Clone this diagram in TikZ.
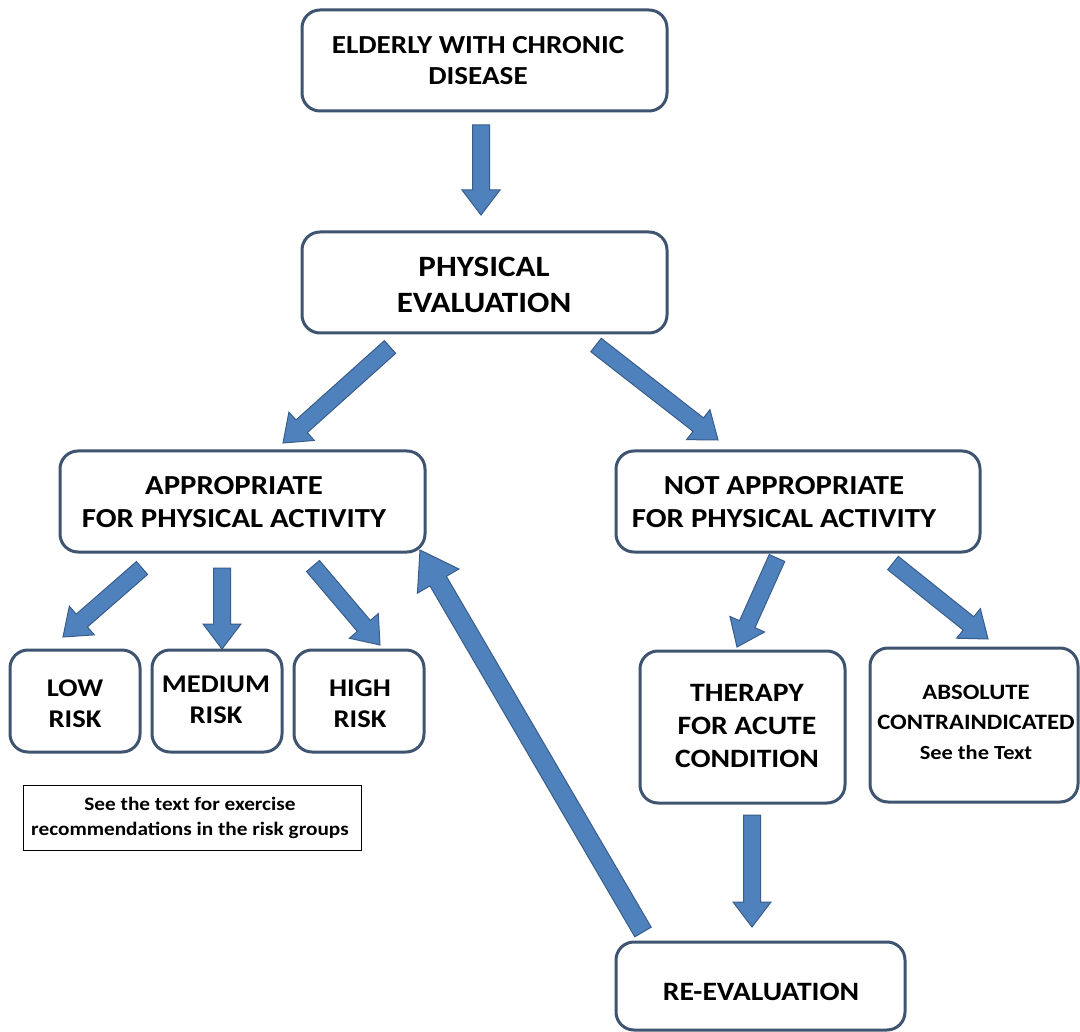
\documentclass[tikz,border=0pt]{standalone}
\usepackage{fontspec}
\setmainfont{Carlito}[FakeStretch=1.12]
\usetikzlibrary{calc}
\definecolor{boxline}{RGB}{62,84,112}
\definecolor{arrfill}{RGB}{79,129,189}
\definecolor{arrline}{RGB}{56,93,138}
\tikzset{
  box/.style={draw=boxline, line width=3pt, rounded corners=18pt, fill=white, inner sep=0pt},
  txt/.style={align=center, inner sep=0pt, font=\bfseries},
  notebox/.style={draw=black, line width=1pt, fill=white, inner sep=0pt},
  blockarr/.style={fill=arrfill, draw=arrline, line width=1pt, line join=miter},
}
% #1 from, #2 to, #3 shaft half width, #4 head half width, #5 head length
\newcommand\blockarrow[5]{%
  \coordinate (ba-h) at ($(#2)!#5!(#1)$);
  \draw[blockarr] ($(#1)!#3!90:(#2)$) -- ($(ba-h)!#3!90:(#2)$) -- ($(ba-h)!#4!90:(#2)$)
     -- (#2) -- ($(ba-h)!#4!-90:(#2)$) -- ($(ba-h)!#3!-90:(#2)$) -- ($(#1)!#3!-90:(#2)$) -- cycle;
}
\begin{document}
\begin{tikzpicture}[x=1pt,y=-1pt]
\useasboundingbox[fill=white] (0,0) rectangle (1080,1032);

% boxes
\node[box, minimum width=365pt, minimum height=101pt] (elderly) at (484.5,60.5) {};
\node[txt, font=\bfseries\fontsize{26}{31}\selectfont] (elderly-t) at (478,61) {ELDERLY WITH CHRONIC\\DISEASE};

\node[box, minimum width=365pt, minimum height=101pt] (phys) at (484.5,282.5) {};
\node[txt, font=\bfseries\fontsize{29.5}{36}\selectfont] (phys-t) at (484,285) {PHYSICAL\\EVALUATION};

\node[box, minimum width=365pt, minimum height=101pt] (appr) at (242.5,501.5) {};
\node[txt, font=\bfseries\fontsize{27.5}{33}\selectfont] (appr-t) at (234,502) {APPROPRIATE\\FOR PHYSICAL ACTIVITY};

\node[box, minimum width=364pt, minimum height=101pt] (notappr) at (798,501.5) {};
\node[txt, font=\bfseries\fontsize{27.5}{33}\selectfont] (notappr-t) at (784,502) {NOT APPROPRIATE\\FOR PHYSICAL ACTIVITY};

\node[box, minimum width=130pt, minimum height=102pt] (low) at (75,701) {};
\node[txt, font=\bfseries\fontsize{25.5}{31}\selectfont] (low-t) at (75,704) {LOW\\RISK};
\node[box, minimum width=130pt, minimum height=102pt] (medium) at (217,701) {};
\node[txt, font=\bfseries\fontsize{25.5}{31}\selectfont] (medium-t) at (216,700) {MEDIUM\\RISK};
\node[box, minimum width=130pt, minimum height=102pt] (high) at (359,701) {};
\node[txt, font=\bfseries\fontsize{25.5}{31}\selectfont] (high-t) at (360,704) {HIGH\\RISK};

\node[notebox, minimum width=338pt, minimum height=65pt] (note) at (192,817.5) {};
\node[txt, font=\bfseries\fontsize{19}{25}\selectfont] (note-t) at (190,818) {See the text for exercise\\recommendations in the risk groups};

\node[box, minimum width=205pt, minimum height=152pt] (therapy) at (742.5,727) {};
\node[txt, font=\bfseries\fontsize{26.5}{33}\selectfont] (therapy-t) at (747,726) {THERAPY\\FOR ACUTE\\CONDITION};

\node[box, minimum width=208pt, minimum height=154pt] (absolute) at (974,725) {};
\node[txt, font=\bfseries\fontsize{22}{30}\selectfont] (absolute-t) at (976,722) {ABSOLUTE\\CONTRAINDICATED\\{\fontsize{20}{30}\selectfont See the Text}};

\node[box, minimum width=289pt, minimum height=88pt] (reeval) at (760.5,986) {};
\node[txt, font=\bfseries\fontsize{26.5}{33}\selectfont] (reeval-t) at (761,992) {RE-EVALUATION};

% arrow end points
\coordinate (a1s) at (481,125);  \coordinate (a1e) at (481,215);
\coordinate (a2s) at (390,347);  \coordinate (a2e) at (283,443);
\coordinate (a3s) at (596,345);  \coordinate (a3e) at (718,440);
\coordinate (a4s) at (142,568);  \coordinate (a4e) at (63,637);
\coordinate (a5s) at (222,568);  \coordinate (a5e) at (222,649);
\coordinate (a6s) at (313,566);  \coordinate (a6e) at (380,645);
\coordinate (a7s) at (777,558);  \coordinate (a7e) at (737,647);
\coordinate (a8s) at (893,563);  \coordinate (a8e) at (988,639);
\coordinate (a9s) at (752,815);  \coordinate (a9e) at (752,927);
\coordinate (a10s) at (643,932); \coordinate (a10e) at (420,550);

\blockarrow{a1s}{a1e}{8.5pt}{19pt}{25pt}
\blockarrow{a2s}{a2e}{8.5pt}{19pt}{25pt}
\blockarrow{a3s}{a3e}{8.5pt}{19pt}{25pt}
\blockarrow{a4s}{a4e}{8.5pt}{19pt}{25pt}
\blockarrow{a5s}{a5e}{8.5pt}{19pt}{25pt}
\blockarrow{a6s}{a6e}{8.5pt}{19pt}{25pt}
\blockarrow{a7s}{a7e}{8.5pt}{19pt}{25pt}
\blockarrow{a8s}{a8e}{8.5pt}{19pt}{25pt}
\blockarrow{a9s}{a9e}{8.5pt}{19pt}{25pt}
\blockarrow{a10s}{a10e}{9.5pt}{24pt}{36pt}
\end{tikzpicture}
\end{document}
